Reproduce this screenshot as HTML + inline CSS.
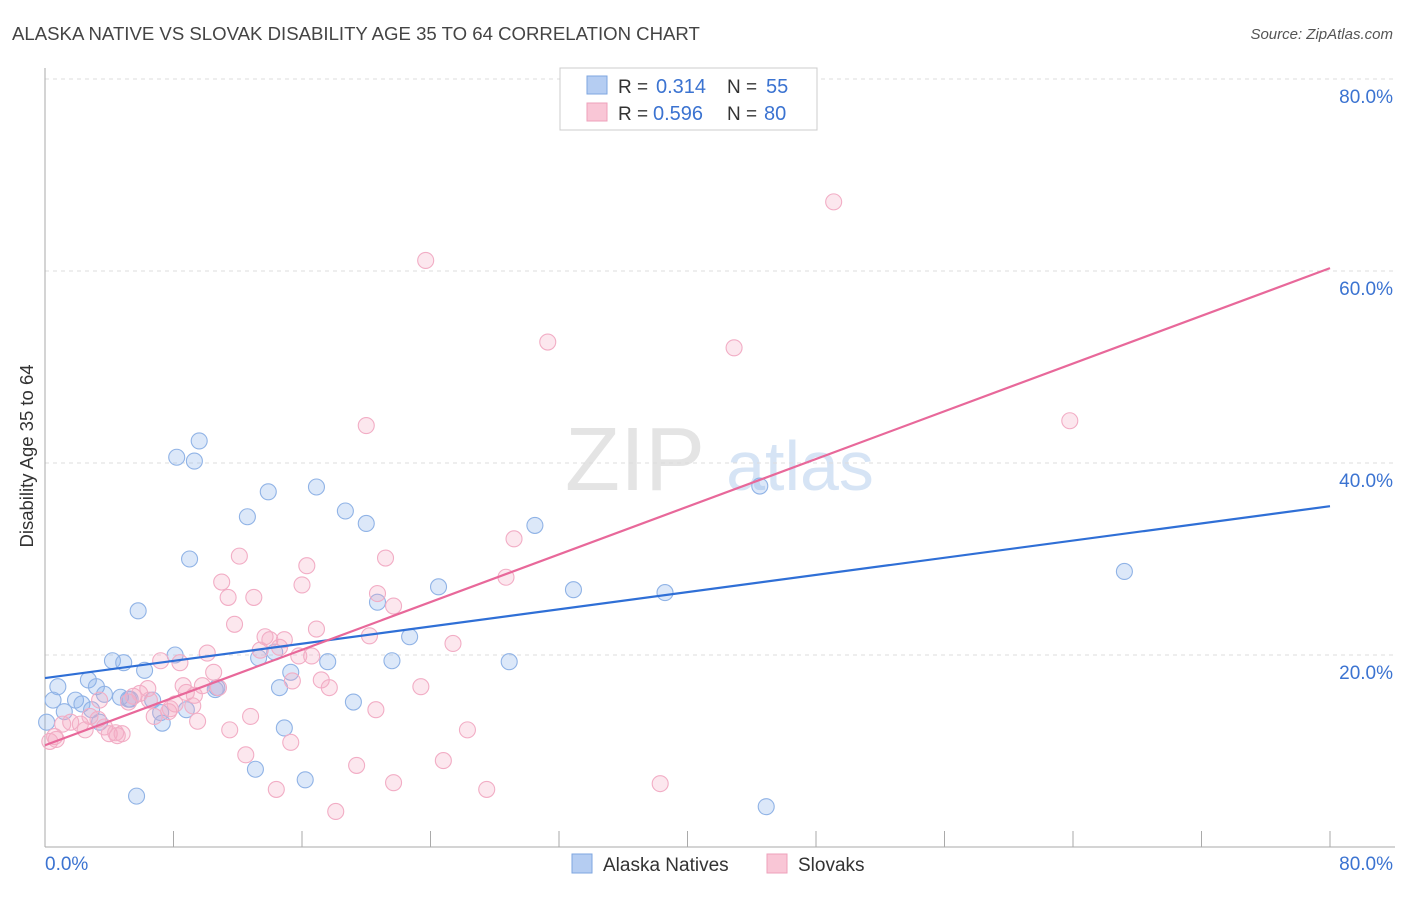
<!DOCTYPE html>
<html><head><meta charset="utf-8">
<style>
body{margin:0;background:#fff;font-family:"Liberation Sans",sans-serif;}
svg text{font-family:"Liberation Sans",sans-serif;}
</style></head>
<body>
<svg width="1406" height="892">
<text x="12" y="40" font-size="18.6" fill="#444">ALASKA NATIVE VS SLOVAK DISABILITY AGE 35 TO 64 CORRELATION CHART</text>
<text x="1393" y="39" font-size="15" fill="#555" font-style="italic" text-anchor="end">Source: ZipAtlas.com</text>
<g>
<text x="635" y="490" font-size="90" fill="#e4e4e4" font-family="Liberation Serif" text-anchor="middle">ZIP</text>
<text x="800" y="490" font-size="70" fill="#d6e4f5" text-anchor="middle">atlas</text>
</g>
<g id="grid"></g>
<g id="axes"></g>
<text transform="translate(33,456) rotate(-90)" font-size="18.5" fill="#333" text-anchor="middle">Disability Age 35 to 64</text>
<g id="pts"></g>
<g id="lines"></g>
<g>
<rect x="560" y="68" width="257" height="62" fill="#fff" stroke="#ccc"/>
<rect x="587" y="76" width="20" height="18" fill="#b5cdf2" stroke="#7ea6e0"/>
<rect x="587" y="103" width="20" height="18" fill="#f9c6d6" stroke="#eea0bb"/>
<text x="618" y="93" font-size="19" fill="#333">R =</text>
<text x="656" y="93" font-size="20" fill="#3b73d1">0.314</text>
<text x="727" y="93" font-size="19" fill="#333">N =</text>
<text x="766" y="93" font-size="20" fill="#3b73d1">55</text>
<text x="618" y="120" font-size="19" fill="#333">R =</text>
<text x="653" y="120" font-size="20" fill="#3b73d1">0.596</text>
<text x="727" y="120" font-size="19" fill="#333">N =</text>
<text x="764" y="120" font-size="20" fill="#3b73d1">80</text>
</g>
<g>
<rect x="572" y="854" width="20" height="19" fill="#b5cdf2" stroke="#7ea6e0"/>
<text x="603" y="871" font-size="19" fill="#333">Alaska Natives</text>
<rect x="767" y="854" width="20" height="19" fill="#f9c6d6" stroke="#eea0bb"/>
<text x="798" y="871" font-size="19" fill="#333">Slovaks</text>
</g>
</svg>
<script>
const yTicks=[20,40,60,80];
const xTickLabels=["0.0%","80.0%"];
const blueX=[0.1,0.8,0.5,1.2,1.9,2.7,3.2,2.3,2.9,3.4,4.2,4.9,3.7,4.7,5.2,5.8,6.2,6.7,7.3,8.1,8.2,9.3,9.6,9.0,8.8,10.7,10.6,12.6,13.1,13.3,13.9,14.3,14.6,14.9,15.3,16.2,16.9,17.6,18.7,19.2,20.0,20.7,21.6,22.7,24.5,28.9,30.5,32.9,38.6,44.5,44.9,67.2,5.7,5.3,7.2];
const blueY=[13.0,16.7,15.3,14.1,15.3,17.4,16.7,14.9,14.3,13.0,19.4,19.2,15.9,15.6,15.4,24.6,18.4,15.3,12.9,20.0,40.6,40.2,42.3,30.0,14.3,16.6,16.4,34.4,8.1,19.7,37.0,20.3,16.6,12.4,18.2,7.0,37.5,19.3,35.0,15.1,33.7,25.5,19.4,21.9,27.1,19.3,33.5,26.8,26.5,37.6,4.2,28.7,5.3,15.4,14.0];
const pinkX=[0.3,0.6,1.1,1.6,2.2,2.8,3.3,3.7,4.0,4.5,4.8,5.2,5.5,5.9,6.4,6.8,7.2,7.7,8.1,8.4,8.6,8.8,9.2,9.5,9.8,10.1,10.5,10.8,11.0,11.4,11.5,11.8,12.1,12.5,12.8,13.0,13.7,14.0,14.4,14.6,14.9,15.3,15.4,15.8,16.0,16.3,16.6,16.9,17.2,17.7,18.1,19.4,20.0,20.2,20.6,20.7,21.2,21.7,21.7,23.4,23.7,24.8,25.4,26.3,27.5,28.7,29.2,31.3,38.3,42.9,49.1,63.8,0.7,2.5,3.4,4.4,6.5,7.8,9.3,13.4];
const pinkY=[11.0,11.5,12.8,13.0,12.8,13.6,13.3,12.5,11.8,11.6,11.8,15.1,15.7,16.0,16.5,13.6,19.4,14.1,14.9,19.2,16.8,16.1,14.7,13.1,16.8,20.2,18.2,16.6,27.6,26.0,12.2,23.2,30.3,9.6,13.6,26.0,21.9,21.6,6.0,20.8,21.6,10.9,17.3,19.9,27.3,29.3,19.9,22.7,17.4,16.6,3.7,8.5,43.9,22.0,14.3,26.4,30.1,25.1,6.7,16.7,61.1,9.0,21.2,12.2,6.0,28.1,32.1,52.6,6.6,52.0,67.2,44.4,11.2,12.2,15.3,11.9,15.3,14.4,15.8,20.5];
const blueLine=[17.6,35.5], pinkLine=[10.6,60.3];
const NS="http://www.w3.org/2000/svg";
const X=v=>45+v*16.0625, Y=v=>847-v*9.6;
function mk(tag,attrs,parent){const e=document.createElementNS(NS,tag);for(const k in attrs)e.setAttribute(k,attrs[k]);parent.appendChild(e);return e;}
const grid=document.getElementById('grid'),axes=document.getElementById('axes'),pts=document.getElementById('pts'),lines=document.getElementById('lines');
yTicks.forEach(t=>{
 const l=mk('line',{x1:45,x2:1395,y1:Y(t),y2:Y(t),stroke:'#ddd','stroke-dasharray':'4,4'},grid);
 
 
 const tx=mk('text',{x:1393,y:Y(t)+24,'font-size':19,fill:'#3b73d1','text-anchor':'end'},grid);
 tx.textContent=t.toFixed(1)+'%';
 
 
});
const ax=mk('line',{x1:45,x2:45,y1:68,y2:847,stroke:'#aaa'},axes);


const bx=mk('line',{x1:45,x2:1395,y1:847,y2:847,stroke:'#aaa'},axes);


for(let i=0;i<=10;i++){
 const t=mk('line',{x1:X(i*8),x2:X(i*8),y1:831,y2:847,stroke:'#aaa'},axes);
 
 
}
[[0,'start',45],[80,'end',1393]].forEach((d,i)=>{
 const t=mk('text',{x:d[2],y:870,'font-size':19,fill:'#3b73d1','text-anchor':d[1]},axes);
 t.textContent=xTickLabels[i];
 
 
});
blueX.forEach((v,i)=>{
 const c=mk('circle',{cx:X(v),cy:Y(blueY[i]),r:8,fill:'rgba(140,180,235,0.3)',stroke:'#90b3e6','stroke-width':1.1},pts);
 
 
});
pinkX.forEach((v,i)=>{
 const c=mk('circle',{cx:X(v),cy:Y(pinkY[i]),r:8,fill:'rgba(245,170,195,0.28)',stroke:'#f2adc5','stroke-width':1.1},pts);
 
 
});
const bl=mk('line',{x1:X(0),y1:Y(blueLine[0]),x2:X(80),y2:Y(blueLine[1]),stroke:'#2f6fd6','stroke-width':2.2},lines);


const pl=mk('line',{x1:X(0),y1:Y(pinkLine[0]),x2:X(80),y2:Y(pinkLine[1]),stroke:'#e8689a','stroke-width':2.2},lines);


</script>
</body></html>
